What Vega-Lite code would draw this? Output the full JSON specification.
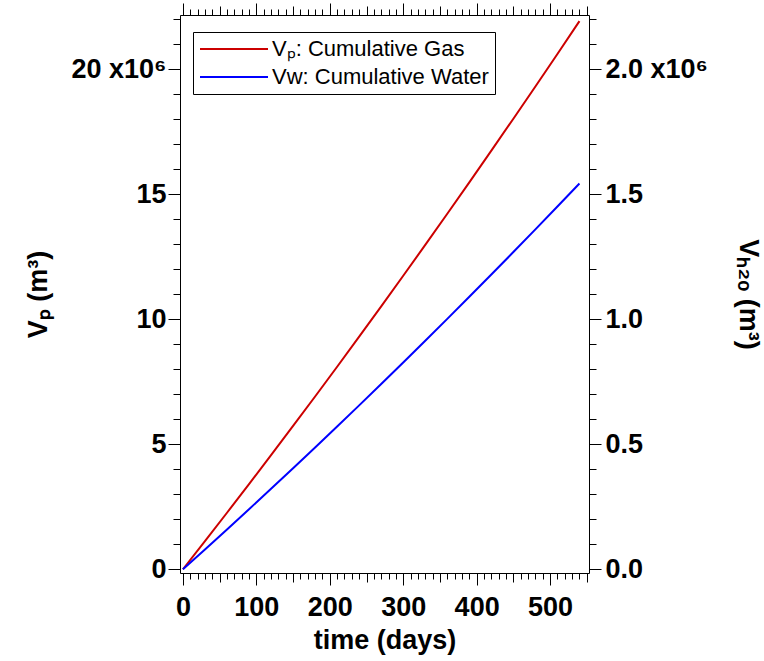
{
  "$schema": "https://vega.github.io/schema/vega-lite/v6.json",
  "width": 409,
  "height": 558,
  "autosize": {"type": "none"},
  "padding": {"left": 180, "top": 15, "right": 175, "bottom": 88},
  "background": "white",
  "config": {
    "view": {"stroke": "black", "strokeWidth": 1},
    "axis": {
      "labelFont": "Liberation Sans", "labelFontWeight": "bold", "labelFontSize": 27, "labelColor": "black",
      "titleFont": "Liberation Sans", "titleFontWeight": "bold", "titleFontSize": 27, "titleColor": "black",
      "grid": false, "domain": false, "tickColor": "black", "tickWidth": 1, "labelOverlap": false, "labelFlush": false
    },
    "legend": {
      "labelFont": "Liberation Sans", "labelFontSize": 22, "labelColor": "black", "labelLimit": 0
    }
  },
  "data": {"values": [
    {"t": 0, "gas": 0, "water": 0},
    {"t": 30, "gas": 1124000, "water": 79300},
    {"t": 60, "gas": 2260000, "water": 159400},
    {"t": 90, "gas": 3406000, "water": 240200},
    {"t": 120, "gas": 4563000, "water": 321800},
    {"t": 150, "gas": 5731000, "water": 404100},
    {"t": 180, "gas": 6911000, "water": 487200},
    {"t": 210, "gas": 8101000, "water": 571000},
    {"t": 240, "gas": 9303000, "water": 655600},
    {"t": 270, "gas": 10515000, "water": 740900},
    {"t": 300, "gas": 11739000, "water": 827000},
    {"t": 330, "gas": 12973000, "water": 913900},
    {"t": 360, "gas": 14219000, "water": 1001500},
    {"t": 390, "gas": 15476000, "water": 1089800},
    {"t": 420, "gas": 16743000, "water": 1178900},
    {"t": 450, "gas": 18022000, "water": 1268800},
    {"t": 480, "gas": 19312000, "water": 1359400},
    {"t": 510, "gas": 20612000, "water": 1450800},
    {"t": 540, "gas": 21924000, "water": 1542900}
  ]},
  "layer": [
    {
      "mark": {"type": "line", "strokeWidth": 2},
      "encoding": {
        "x": {"field": "t", "type": "quantitative", "scale": {"domain": [-4, 553], "nice": false, "zero": false},
          "axis": {"orient": "bottom", "values": [0, 100, 200, 300, 400, 500], "tickSize": 12, "labelPadding": 9, "title": "time (days)", "titlePadding": 7}},
        "y": {"field": "gas", "type": "quantitative", "scale": {"domain": [-150000, 22170000], "nice": false, "zero": false},
          "axis": {"orient": "left", "values": [0, 5000000, 10000000, 15000000, 20000000], "tickSize": 12, "labelPadding": 2,
            "labelExpr": "datum.value == 20000000 ? '20 x10⁶' : format(datum.value / 1000000, 'd')", "title": "Vₚ  (m³)", "titlePadding": 18}},
        "color": {"datum": "Vₚ: Cumulative Gas", "type": "nominal",
          "scale": {"domain": ["Vₚ: Cumulative Gas", "Vᴡ: Cumulative Water"], "range": ["#cc0000", "#0000ff"]},
          "legend": {"title": null, "orient": "none", "legendX": 13, "legendY": 17, "strokeColor": "black", "padding": 6,
            "symbolType": "stroke", "symbolSize": 4624, "symbolStrokeWidth": 2, "clipHeight": 22, "rowPadding": 6, "labelOffset": 3, "fillColor": "white"}}
      }
    },
    {
      "mark": {"type": "line", "strokeWidth": 2},
      "encoding": {
        "x": {"field": "t", "type": "quantitative", "scale": {"domain": [-4, 553], "nice": false, "zero": false},
          "axis": {"orient": "top", "values": [0, 100, 200, 300, 400, 500], "tickSize": 12, "labels": false, "title": null}},
        "y": {"field": "water", "type": "quantitative", "scale": {"domain": [-15000, 2217000], "nice": false, "zero": false},
          "axis": {"orient": "right", "values": [0, 500000, 1000000, 1500000, 2000000], "tickSize": 12, "labelPadding": 4,
            "labelExpr": "datum.value == 2000000 ? '2.0 x10⁶' : format(datum.value / 1000000, '.1f')", "title": "Vₕ₂ₒ (m³)", "titlePadding": 26}},
        "color": {"datum": "Vᴡ: Cumulative Water", "type": "nominal"}
      }
    },
    {
      "mark": {"type": "point", "opacity": 0},
      "encoding": {
        "x": {"field": "t", "type": "quantitative", "scale": {"domain": [-4, 553], "nice": false, "zero": false},
          "axis": {"orient": "bottom", "values": [0,10,20,30,40,50,60,70,80,90,100,110,120,130,140,150,160,170,180,190,200,210,220,230,240,250,260,270,280,290,300,310,320,330,340,350,360,370,380,390,400,410,420,430,440,450,460,470,480,490,500,510,520,530,540,550], "tickSize": 6, "labels": false, "title": null}},
        "y": {"field": "gas", "type": "quantitative", "scale": {"domain": [-150000, 22170000], "nice": false, "zero": false},
          "axis": {"orient": "left", "values": [0,1000000,2000000,3000000,4000000,5000000,6000000,7000000,8000000,9000000,10000000,11000000,12000000,13000000,14000000,15000000,16000000,17000000,18000000,19000000,20000000,21000000,22000000], "tickSize": 7, "labels": false, "title": null}}
      }
    },
    {
      "mark": {"type": "point", "opacity": 0},
      "encoding": {
        "x": {"field": "t", "type": "quantitative", "scale": {"domain": [-4, 553], "nice": false, "zero": false},
          "axis": {"orient": "top", "values": [0,10,20,30,40,50,60,70,80,90,100,110,120,130,140,150,160,170,180,190,200,210,220,230,240,250,260,270,280,290,300,310,320,330,340,350,360,370,380,390,400,410,420,430,440,450,460,470,480,490,500,510,520,530,540,550], "tickSize": 6, "labels": false, "title": null}},
        "y": {"field": "water", "type": "quantitative", "scale": {"domain": [-15000, 2217000], "nice": false, "zero": false},
          "axis": {"orient": "right", "values": [0,100000,200000,300000,400000,500000,600000,700000,800000,900000,1000000,1100000,1200000,1300000,1400000,1500000,1600000,1700000,1800000,1900000,2000000,2100000,2200000], "tickSize": 7, "labels": false, "title": null}}
      }
    },
    {
      "mark": {"type": "point", "opacity": 0},
      "encoding": {
        "x": {"field": "t", "type": "quantitative", "scale": {"domain": [-4, 553], "nice": false, "zero": false},
          "axis": {"orient": "bottom", "values": [50, 150, 250, 350, 450, 550], "tickSize": 9, "labels": false, "title": null}}
      }
    },
    {
      "mark": {"type": "point", "opacity": 0},
      "encoding": {
        "x": {"field": "t", "type": "quantitative", "scale": {"domain": [-4, 553], "nice": false, "zero": false},
          "axis": {"orient": "top", "values": [50, 150, 250, 350, 450, 550], "tickSize": 9, "labels": false, "title": null}}
      }
    }
  ],
  "resolve": {"scale": {"x": "independent", "y": "independent"}, "axis": {"x": "independent", "y": "independent"}}
}
